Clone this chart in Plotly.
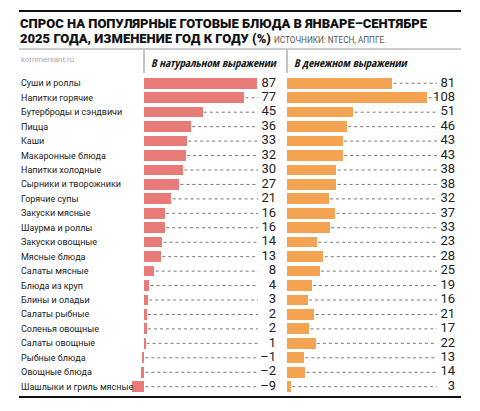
import plotly.graph_objects as go

# Data
categories = [
    "Суши и роллы", "Напитки горячие", "Бутерброды и сэндвичи", "Пицца", "Каши",
    "Макаронные блюда", "Напитки холодные", "Сырники и творожники", "Горячие супы",
    "Закуски мясные", "Шаурма и роллы", "Закуски овощные", "Мясные блюда",
    "Салаты мясные", "Блюда из круп", "Блины и оладьи", "Салаты рыбные",
    "Соленья овощные", "Салаты овощные", "Рыбные блюда", "Овощные блюда",
    "Шашлыки и гриль мясные",
]
natural = [87, 77, 45, 36, 33, 32, 30, 27, 21, 16, 16, 14, 13, 8, 4, 3, 2, 2, 1, -1, -2, -9]
money = [81, 108, 51, 46, 43, 43, 38, 38, 32, 37, 33, 23, 28, 25, 19, 16, 21, 17, 22, 13, 14, 3]

TITLE_1 = "СПРОС НА ПОПУЛЯРНЫЕ ГОТОВЫЕ БЛЮДА В ЯНВАРЕ–СЕНТЯБРЕ"
TITLE_2 = "2025 ГОДА, ИЗМЕНЕНИЕ ГОД К ГОДУ (%)"
SOURCE = "ИСТОЧНИКИ: NTECH, АППГЕ."
PANEL_1 = "В натуральном выражении"
PANEL_2 = "В денежном выражении"

# the page body keeps an 8px margin, so the figure sits at (8, 8)
OFF = 8
W, H = 464, 395
PINK = "#e87b78"
ORANGE = "#f3a352"
COND = "Open Sans Condensed, Roboto, sans-serif"  # only the bold cut is installed
SCALE = 1.3  # px per percentage point


def px(x):
    return (x - OFF) / W


def py(y):
    return 1 - (y - OFF) / H


def fmt(v):
    return f"–{abs(v)}" if v < 0 else str(v)


# panel geometry, in picture pixels
L_ZERO, R_ZERO = 144, 287
L_DOM, R_DOM = (130, 285), (286, 461)
L_LEAD_END, R_LEAD_END = (258 - L_ZERO) / SCALE, (437 - R_ZERO) / SCALE
L_LABEL, R_LABEL = (276 - L_ZERO) / SCALE, (455 - R_ZERO) / SCALE


def leaders(values, end):
    xs, ys = [], []
    for c, v in zip(categories, values):
        start = max(v, 0) + 1.0
        if start < end:
            xs += [start, end, None]
            ys += [c, c, None]
    return xs, ys


fig = go.Figure()

for vals, color, xa, lead_end, lab_x in [
    (natural, PINK, "x", L_LEAD_END, L_LABEL),
    (money, ORANGE, "x2", R_LEAD_END, R_LABEL),
]:
    lx, ly = leaders(vals, lead_end)
    fig.add_trace(go.Scatter(x=lx, y=ly, mode="lines", xaxis=xa, yaxis="y",
                             line=dict(color="#777777", width=1, dash="dot"),
                             hoverinfo="skip", showlegend=False))
    fig.add_trace(go.Bar(x=vals, y=categories, orientation="h", xaxis=xa, yaxis="y",
                         marker=dict(color=color, line=dict(width=0)), width=0.74,
                         showlegend=False))
    fig.add_trace(go.Scatter(x=[lab_x] * len(vals), y=categories, mode="text",
                             text=[fmt(v) for v in vals], textposition="middle left",
                             textfont=dict(family="Roboto, sans-serif", size=13, color="#222222"),
                             xaxis=xa, yaxis="y", hoverinfo="skip", showlegend=False))

annotations = [
    dict(text=TITLE_1, x=px(19), y=py(24), xanchor="left", yanchor="middle",
         font=dict(family="Roboto", size=13, color="#111", weight=900)),
    dict(text=TITLE_2, x=px(19), y=py(39), xanchor="left", yanchor="middle",
         font=dict(family="Roboto", size=13, color="#111", weight=900)),
    dict(text=SOURCE, x=px(273), y=py(40), xanchor="left", yanchor="middle",
         font=dict(family="Roboto", size=8.2, color="#555")),
    dict(text="kommersant.ru", x=px(20), y=py(59), xanchor="left", yanchor="middle",
         font=dict(family="Roboto", size=7.8, color="#aaaaaa")),
    dict(text=f"<i>{PANEL_1}</i>", x=px(150), y=py(62), xanchor="left", yanchor="middle",
         font=dict(family=COND, size=11, color="#111", weight=700)),
    dict(text=f"<i>{PANEL_2}</i>", x=px(293), y=py(62), xanchor="left", yanchor="middle",
         font=dict(family=COND, size=11, color="#111", weight=700)),
]
for c in categories:
    annotations.append(dict(text=c, x=px(20), y=c, xref="paper", yref="y",
                            xanchor="left", yanchor="middle",
                            font=dict(family="Roboto", size=9, color="#222")))

for a in annotations:
    a.setdefault("xref", "paper")
    a.setdefault("yref", "paper")
    a["showarrow"] = False
    a["borderpad"] = 0

shapes = []
for (x0, y0, x1, y1, color, width) in [
    (19, 11, 461, 11, "#111111", 2),
    (19, 49, 461, 49, "#999999", 1),
    (19, 397, 461, 397, "#111111", 2),
    (L_ZERO, 50, L_ZERO, 73, "#888888", 1),
    (R_ZERO, 50, R_ZERO, 73, "#888888", 1),
]:
    shapes.append(dict(type="line", xref="paper", yref="paper", layer="above",
                       x0=px(x0), x1=px(x1), y0=py(y0), y1=py(y1),
                       line=dict(color=color, width=width)))

row_h = (386.7 - 83.3) / (len(categories) - 1)
y_top, y_bot = 83.3 - row_h / 2, 386.7 + row_h / 2

fig.update_layout(
    width=W, height=H, margin=dict(l=0, r=0, t=0, b=0),
    paper_bgcolor="white", plot_bgcolor="white",
    xaxis=dict(domain=[px(L_DOM[0]), px(L_DOM[1])],
               range=[(L_DOM[0] - L_ZERO) / SCALE, (L_DOM[1] - L_ZERO) / SCALE],
               visible=False, fixedrange=True, anchor="y"),
    xaxis2=dict(domain=[px(R_DOM[0]), px(R_DOM[1])],
                range=[(R_DOM[0] - R_ZERO) / SCALE, (R_DOM[1] - R_ZERO) / SCALE],
                visible=False, fixedrange=True, anchor="y"),
    yaxis=dict(domain=[py(y_bot), py(y_top)], categoryorder="array", categoryarray=categories,
               range=[len(categories) - 0.5, -0.5], visible=False, fixedrange=True, anchor="x"),
    annotations=annotations, shapes=shapes, bargap=0,
)

fig.write_html("out.html")
